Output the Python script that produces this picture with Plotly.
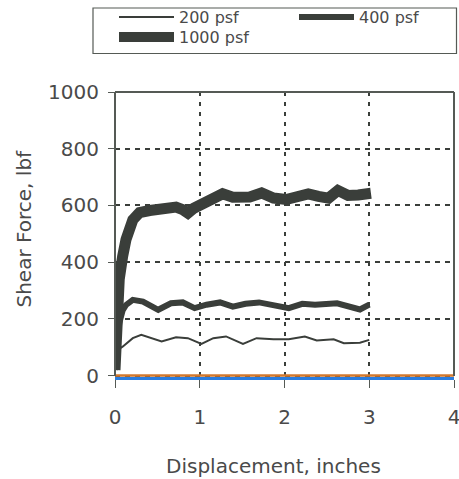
import plotly.graph_objects as go

# ---- data ----
series_names = ["200 psf", "400 psf", "1000 psf"]

x_200 = [0, 0.03, 0.09, 0.21, 0.31, 0.44, 0.55, 0.72, 0.86, 1.02, 1.16, 1.31, 1.51,
         1.67, 1.87, 2.05, 2.24, 2.38, 2.58, 2.70, 2.89, 3.0]
y_200 = [20, 91, 102, 132, 144, 132, 120, 135, 132, 112, 132, 138, 112,
         132, 128, 128, 138, 124, 128, 114, 116, 126]

x_400 = [0, 0.02, 0.05, 0.09, 0.13, 0.21, 0.33, 0.51, 0.66, 0.80, 0.94, 1.08, 1.24,
         1.39, 1.54, 1.70, 1.90, 2.05, 2.21, 2.36, 2.62, 2.75, 2.89, 3.0]
y_400 = [20, 110, 185, 230, 249, 267, 261, 232, 255, 258, 238, 250, 258,
         243, 253, 258, 246, 238, 253, 250, 255, 243, 233, 250]

x_1000 = [0, 0.02, 0.05, 0.09, 0.13, 0.21, 0.29, 0.41, 0.55, 0.72, 0.80, 0.86, 0.93,
          1.0, 1.08, 1.16, 1.27, 1.39, 1.59, 1.73, 1.87, 2.02, 2.16, 2.28, 2.40,
          2.52, 2.63, 2.75, 2.87, 3.02]
y_1000 = [20, 250, 340, 420, 480, 549, 575, 582, 588, 594, 585, 573, 590,
          602, 614, 628, 641, 629, 630, 644, 626, 621, 637, 641, 632,
          626, 653, 635, 637, 643]

zero_x = [0, 4]
zero_y = [0, 0]

x_ticks = [0, 1, 2, 3, 4]
y_ticks = [0, 200, 400, 600, 800, 1000]

W, H = 459, 479
ML, MR, MT, MB = 115, 5, 92, 102
PW, PH = W - ML - MR, H - MT - MB


def px_to_paper_x(px):
    return (px - ML) / PW


def px_to_paper_y(py):
    return (MT + PH - py) / PH


def cx(px):
    return px / W


def cy(py):
    return 1 - py / H


DARK = "#3a3e3a"
AXC = "#555a55"
TXT = "#4a4a4a"
FONT = "DejaVu Sans"
LEGFONT = dict(family=FONT, size=16, color=TXT)


def legend_box(x_px, top_px):
    return dict(
        orientation="v", xref="container", yref="container",
        x=cx(x_px), y=cy(top_px), xanchor="left", yanchor="top",
        borderwidth=0, bgcolor="rgba(0,0,0,0)", font=LEGFONT, itemwidth=55,
    )


def frame_line(x0, y0, x1, y1):
    return dict(type="line", xref="paper", yref="paper", x0=x0, y0=y0, x1=x1, y1=y1,
                line=dict(color=AXC, width=2), layer="above")


fig = go.Figure()
fig.add_trace(go.Scatter(x=zero_x, y=zero_y, mode="lines",
                         line=dict(color="#d2782e", width=2.5),
                         showlegend=False, hoverinfo="skip"))
fig.add_trace(go.Scatter(x=x_200, y=y_200, mode="lines", name=series_names[0],
                         line=dict(color=DARK, width=2), legend="legend"))
fig.add_trace(go.Scatter(x=x_400, y=y_400, mode="lines", name=series_names[1],
                         line=dict(color=DARK, width=6), legend="legend2"))
fig.add_trace(go.Scatter(x=x_1000, y=y_1000, mode="lines", name=series_names[2],
                         line=dict(color=DARK, width=11), legend="legend3"))

fig.update_layout(
    width=W, height=H,
    margin=dict(l=ML, r=MR, t=MT, b=MB, autoexpand=False),
    paper_bgcolor="white", plot_bgcolor="white",
    font=dict(family=FONT, size=20, color=TXT),
    showlegend=True,
    legend=legend_box(114, -1.5),
    legend2=legend_box(294, -1.5),
    legend3=legend_box(114, 20),
    xaxis=dict(
        range=[0, 4], tickvals=x_ticks, ticktext=[str(v) for v in x_ticks],
        showgrid=True, gridcolor=DARK, gridwidth=2, griddash="4px,6px",
        zeroline=False, showline=True, linecolor="#2a7de0", linewidth=2.5,
        mirror=False, ticks="outside", ticklen=8, tickwidth=1, tickcolor=AXC,
        ticklabelstandoff=12, ticklabeloverflow="allow", fixedrange=True,
    ),
    yaxis=dict(
        range=[-5, 1000], tickvals=y_ticks, ticktext=[str(v) for v in y_ticks],
        showgrid=True, gridcolor=DARK, gridwidth=2, griddash="5px,5px",
        zeroline=False, showline=False,
        ticks="outside", ticklen=6, tickwidth=1, tickcolor=AXC,
        ticklabelstandoff=5, ticklabeloverflow="allow", fixedrange=True,
    ),
    shapes=[
        frame_line(0, 1, 1, 1),                      # top
        frame_line(0, px_to_paper_y(376), 0, 1),     # left
        frame_line(1, px_to_paper_y(376), 1, 1),     # right
        # legend frame
        dict(type="rect", xref="paper", yref="paper",
             x0=px_to_paper_x(93), x1=px_to_paper_x(456.5),
             y0=px_to_paper_y(53.5), y1=px_to_paper_y(8),
             line=dict(color=AXC, width=1.2), fillcolor="rgba(0,0,0,0)", layer="below"),
    ],
    annotations=[
        dict(text="Displacement, inches", xref="paper", yref="paper",
             x=px_to_paper_x(273.5), y=px_to_paper_y(466), xanchor="center", yanchor="middle",
             showarrow=False, font=dict(family=FONT, size=20, color=TXT)),
        dict(text="Shear Force, lbf", xref="paper", yref="paper",
             x=px_to_paper_x(23), y=px_to_paper_y(228.5), xanchor="center", yanchor="middle",
             textangle=-90, showarrow=False, font=dict(family=FONT, size=20, color=TXT)),
    ],
)

fig.write_html(
    "out.html",
    config={"displayModeBar": False},
    post_script="document.body.style.margin='0';document.body.style.overflow='hidden';",
)
